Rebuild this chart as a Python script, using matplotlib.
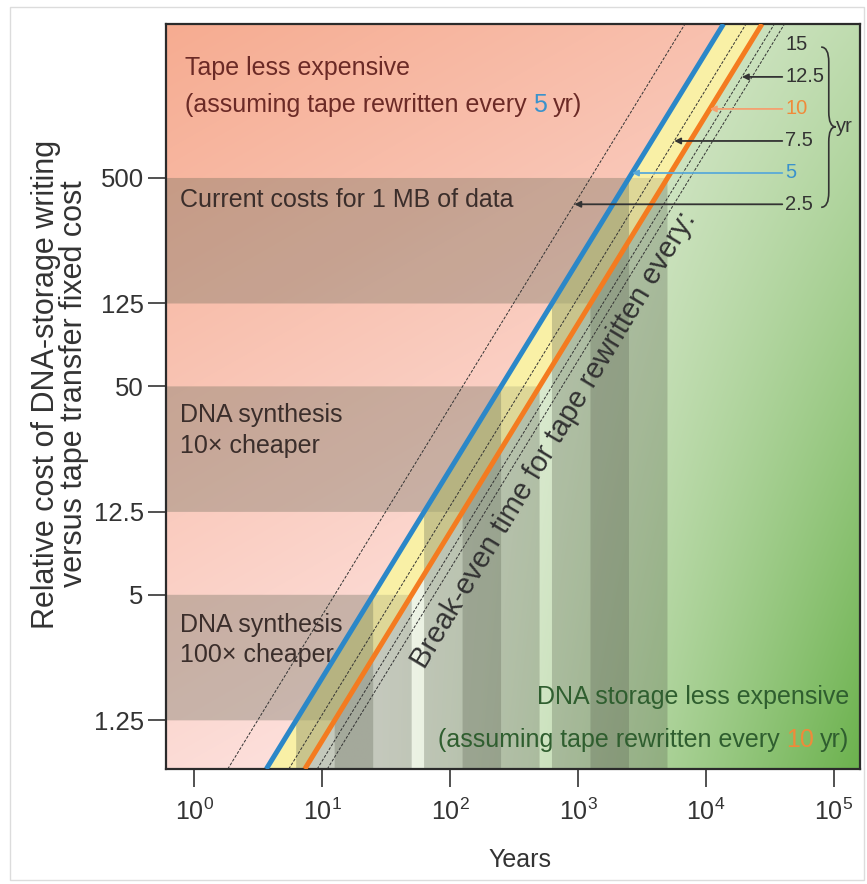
import numpy as np
import matplotlib.pyplot as plt
from matplotlib.patches import Polygon, Rectangle, PathPatch
from matplotlib.path import Path

plt.rcParams.update({"font.family": ["Liberation Sans", "DejaVu Sans"]})

# tape rewrite periods (years); break-even years = relative cost * period
periods = [2.5, 5, 7.5, 10, 12.5, 15]
period_labels = ["2.5", "5", "7.5", "10", "12.5", "15"]
blue_period = 5
orange_period = 10

# cost bands (relative cost of DNA writing vs tape transfer fixed cost)
band_low = [1.25, 12.5, 125]
band_high = [5, 50, 500]
band_labels = ["DNA synthesis\n100× cheaper", "DNA synthesis\n10× cheaper",
               "Current costs for 1 MB of data"]

ytick_values = [1.25, 5, 12.5, 50, 125, 500]
ytick_labels = ["1.25", "5", "12.5", "50", "125", "500"]
xtick_values = [1e0, 1e1, 1e2, 1e3, 1e4, 1e5]

xlim = (0.6, 1.6e5)
ylim = (0.73, 2740)

BLUE = "#2b87c8"
ORANGE = "#f47b20"
YELLOW = "#f9f0a6"
DARK = "#333333"
SHADE = "#5a6150"


def lerp(c0, c1, s):
    c0 = np.array(c0, dtype=float) / 255
    c1 = np.array(c1, dtype=float) / 255
    s = s[..., None]
    return c0 * (1 - s) + c1 * s


def put_pieces(ax, pieces, x, y, size, align="left"):
    """Write a line made of differently coloured pieces."""
    gap = 0.25 * size
    if align == "left":
        txt, col = pieces[0]
        prev = ax.text(x, y, txt, color=col, fontsize=size, transform=ax.transAxes,
                       ha="left", va="baseline", zorder=6)
        for txt, col in pieces[1:]:
            prev = ax.annotate(txt, xy=(1, 0), xycoords=prev, xytext=(gap, 0),
                               textcoords="offset points", color=col, fontsize=size,
                               ha="left", va="bottom", zorder=6)
    else:
        txt, col = pieces[-1]
        prev = ax.text(x, y, txt, color=col, fontsize=size, transform=ax.transAxes,
                       ha="right", va="baseline", zorder=6)
        for txt, col in pieces[-2::-1]:
            prev = ax.annotate(txt, xy=(0, 0), xycoords=prev, xytext=(-gap, 0),
                               textcoords="offset points", color=col, fontsize=size,
                               ha="right", va="bottom", zorder=6)


fig = plt.figure(figsize=(8.67, 8.84), dpi=100)
rect = [166 / 867, 1 - 769 / 884, (860 - 166) / 867, (769 - 24) / 884]

# background gradients live in a plain axes underneath
ax_bg = fig.add_axes(rect)
ax_bg.set_axis_off()
ax = fig.add_axes(rect)
ax.set_facecolor("none")
ax.set_xscale("log")
ax.set_yscale("log")
ax.set_xlim(*xlim)
ax.set_ylim(*ylim)

n = 300
xa = np.linspace(0, 1, n)[None, :] * np.ones((n, 1))
ya = np.linspace(1, 0, n)[:, None] * np.ones((1, n))

s_green = (np.clip(xa - 0.3, 0, 0.7) / 0.7 * (0.45 + 0.55 * (1 - ya))) ** 1.2
green = lerp((243, 246, 236), (108, 178, 78), s_green)
ax_bg.imshow(green, extent=(0, 1, 0, 1), aspect="auto", interpolation="bilinear")

s_pink = np.clip(0.85 * (1 - ya) + 0.45 * xa, 0, 1)
pink = lerp((246, 172, 145), (253, 228, 226), s_pink)
im = ax_bg.imshow(pink, extent=(0, 1, 0, 1), aspect="auto", interpolation="bilinear")
clip = Polygon([(xlim[0], ylim[0]), (ylim[0] * blue_period, ylim[0]),
                (ylim[1] * blue_period, ylim[1]), (xlim[0], ylim[1])],
               closed=True, transform=ax.transData)
im.set_clip_path(clip)

# yellow strip between the 5 yr and 10 yr break-even lines
ax.add_patch(Polygon([(ylim[0] * blue_period, ylim[0]), (ylim[0] * orange_period, ylim[0]),
                      (ylim[1] * orange_period, ylim[1]), (ylim[1] * blue_period, ylim[1])],
                     closed=True, facecolor=YELLOW, edgecolor="none", zorder=1))

# cost bands: left of each break-even line they run across, right of it they drop to the years axis
for lo, hi in zip(band_low, band_high):
    for T in (blue_period, orange_period):
        ax.add_patch(Polygon([(xlim[0], lo), (xlim[0], hi), (hi * T, hi), (lo * T, lo)],
                             closed=True, facecolor=SHADE, alpha=0.17,
                             edgecolor="none", zorder=2))
        ax.add_patch(Polygon([(lo * T, lo), (hi * T, hi), (hi * T, ylim[0]), (lo * T, ylim[0])],
                             closed=True, facecolor=SHADE, alpha=0.3,
                             edgecolor="none", zorder=2))

# break-even lines
yy = np.array(ylim)
for T in periods:
    if T == blue_period:
        ax.plot(yy * T, yy, color=BLUE, lw=3.6, zorder=4, solid_capstyle="butt")
    elif T == orange_period:
        ax.plot(yy * T, yy, color=ORANGE, lw=3.6, zorder=4, solid_capstyle="butt")
    else:
        ax.plot(yy * T, yy, color=DARK, lw=0.7, ls=(0, (3, 1.6)), zorder=3)

# period labels with arrows on the right
label_y = {"15": 0.972, "12.5": 0.929, "10": 0.886, "7.5": 0.843, "5": 0.800, "2.5": 0.758}
ly0, ly1 = np.log10(ylim)
for T, lab in zip(periods, period_labels):
    yf = label_y[lab]
    cost = 10 ** (ly0 + yf * (ly1 - ly0))
    if T == blue_period:
        tc, ac = "#3a92cc", "#5aaad8"
    elif T == orange_period:
        tc, ac = "#f08a3a", "#f5a070"
    else:
        tc, ac = DARK, DARK
    if lab == "15":
        ax.text(0.892, yf, lab, transform=ax.transAxes, color=tc, fontsize=14.5,
                ha="left", va="center", zorder=6)
        continue
    ax.annotate(lab, xy=(cost * T, cost), xycoords="data", xytext=(0.892, yf),
                textcoords="axes fraction", color=tc, fontsize=14.5, ha="left", va="center",
                zorder=6, arrowprops=dict(arrowstyle="-|>", color=ac, lw=1.3,
                                          mutation_scale=9, shrinkA=0, shrinkB=0))

# brace and "yr"
xb0, xbm, xbp = 0.944, 0.955, 0.965
yt, ym, yb, d = 0.969, 0.862, 0.754, 0.02
brace = Path([(xb0, yt), (xbm, yt), (xbm, yt - d), (xbm, ym + d), (xbm, ym), (xbp, ym),
              (xbm, ym), (xbm, ym - d), (xbm, yb + d), (xbm, yb), (xb0, yb)],
             [Path.MOVETO, Path.CURVE3, Path.CURVE3, Path.LINETO, Path.CURVE3, Path.CURVE3,
              Path.CURVE3, Path.CURVE3, Path.LINETO, Path.CURVE3, Path.CURVE3])
ax.add_patch(PathPatch(brace, transform=ax.transAxes, fill=False, edgecolor=DARK,
                       lw=1.2, zorder=6, clip_on=False))
ax.text(0.966, ym, "yr", transform=ax.transAxes, color=DARK, fontsize=14.5,
        ha="left", va="center", zorder=6)

# region texts
ax.text(0.027, 0.941, "Tape less expensive", transform=ax.transAxes, color="#6b2a26",
        fontsize=18, ha="left", va="center", zorder=6)
put_pieces(ax, [("(assuming tape rewritten every", "#6b2a26"), ("5", "#3a92cc"),
                ("yr)", "#6b2a26")], 0.027, 0.882, 18)
ax.text(0.985, 0.097, "DNA storage less expensive", transform=ax.transAxes, color="#2f5e2f",
        fontsize=18, ha="right", va="center", zorder=6)
put_pieces(ax, [("(assuming tape rewritten every", "#2f5e2f"), ("10", "#f08a3a"),
                ("yr)", "#2f5e2f")], 0.985, 0.030, 18, align="right")

band_text_y = [0.173, 0.454, 0.764]
for lab, yf in zip(band_labels, band_text_y):
    ax.text(0.02, yf, lab, transform=ax.transAxes, color="#3b2e2b", fontsize=18,
            ha="left", va="center", linespacing=1.35, zorder=6)

ax.text(0.558, 0.442, "Break-even time for tape rewritten every:", transform=ax.transAxes,
        color=DARK, fontsize=21, rotation=59, rotation_mode="anchor",
        ha="center", va="center", zorder=6)

# axes styling
ax.set_xticks(xtick_values)
ax.set_xticklabels([r"$\mathdefault{10^{%d}}$" % int(np.log10(v)) for v in xtick_values])
ax.xaxis.set_minor_locator(plt.NullLocator())
ax.set_yticks(ytick_values)
ax.set_yticklabels(ytick_labels)
ax.yaxis.set_minor_locator(plt.NullLocator())
ax.tick_params(axis="x", length=13, width=1.2, pad=8, labelsize=18, colors=DARK)
ax.tick_params(axis="y", length=13, width=1.2, pad=3, labelsize=18.5, colors=DARK)
for sp in ax.spines.values():
    sp.set_color("#2b2b2b")
    sp.set_linewidth(1.6)

fig.text(60 / 867, 1 - 384 / 884,
         "Relative cost of DNA-storage writing\nversus tape transfer fixed cost",
         rotation=90, ha="center", va="center", fontsize=22, color=DARK,
         multialignment="center", linespacing=0.88)
fig.text(520 / 867, 1 - 860 / 884, "Years", ha="center", va="center", fontsize=18, color=DARK)

fig.patches.append(Rectangle((0.011, 0.004), 0.986, 0.988, transform=fig.transFigure,
                             fill=False, edgecolor="#dcdcdc", lw=1))

fig.savefig("out.png", dpi=100)
